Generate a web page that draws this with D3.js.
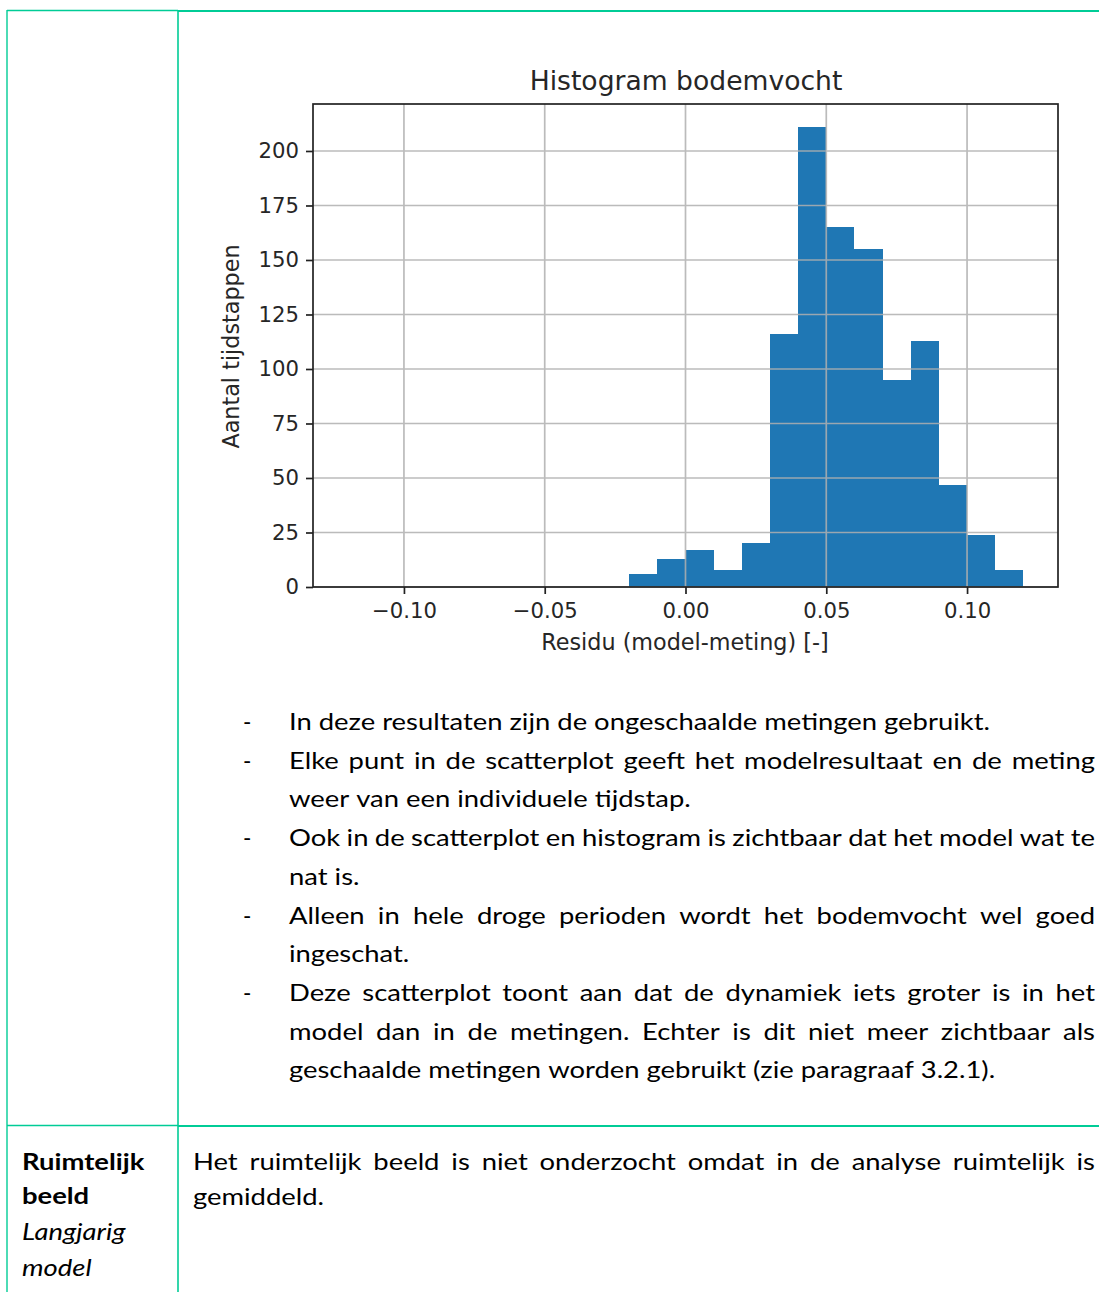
<!DOCTYPE html>
<html><head><meta charset="utf-8">
<script src="https://cdn.jsdelivr.net/npm/d3@7"></script>
<style>html,body{margin:0;padding:0;background:#fff;overflow:hidden}</style>
</head><body>
<script>
// ---- chart data ----
const binEdges = [-0.02,-0.01,0.00,0.01,0.02,0.03,0.04,0.05,0.06,0.07,0.08,0.09,0.10,0.11,0.12];
const counts   = [6,13,17,8,20,116,211,165,155,95,113,47,24,8];
const xTicks   = [-0.10,-0.05,0.00,0.05,0.10];
const yTicks   = [0,25,50,75,100,125,150,175,200];
const chartTitle = "Histogram bodemvocht";
const xLabel = "Residu (model-meting) [-]";
const yLabel = "Aantal tijdstappen";

// ---- document text ----
const bulletLines = [
  {t:"In deze resultaten zijn de ongeschaalde metingen gebruikt.", dash:true, j:false},
  {t:"Elke punt in de scatterplot geeft het modelresultaat en de meting", dash:true, j:true},
  {t:"weer van een individuele tijdstap.", dash:false, j:false},
  {t:"Ook in de scatterplot en histogram is zichtbaar dat het model wat te", dash:true, j:true},
  {t:"nat is.", dash:false, j:false},
  {t:"Alleen in hele droge perioden wordt het bodemvocht wel goed", dash:true, j:true},
  {t:"ingeschat.", dash:false, j:false},
  {t:"Deze scatterplot toont aan dat de dynamiek iets groter is in het", dash:true, j:true},
  {t:"model dan in de metingen. Echter is dit niet meer zichtbaar als", dash:false, j:true},
  {t:"geschaalde metingen worden gebruikt (zie paragraaf 3.2.1).", dash:false, j:false}
];
const rowTextLines = [
  {t:"Het ruimtelijk beeld is niet onderzocht omdat in de analyse ruimtelijk is", j:true},
  {t:"gemiddeld.", j:false}
];
const leftCellLines = [
  {t:"Ruimtelijk", w:"bold", s:"normal"},
  {t:"beeld", w:"bold", s:"normal"},
  {t:"Langjarig", w:"normal", s:"italic"},
  {t:"model", w:"normal", s:"italic"}
];

const W = 1099, H = 1292;
const svg = d3.select("body").append("svg").attr("width", W).attr("height", H)
  .style("display","block");
svg.append("rect").attr("width",W).attr("height",H).attr("fill","#fff");

// ---- table borders ----
const green = "#00cc96";
const tb = svg.append("g");
tb.append("line").attr("x1",7).attr("x2",178).attr("y1",10.5).attr("y2",10.5).attr("stroke",green).attr("stroke-width",1.3);
tb.append("line").attr("x1",178).attr("x2",W).attr("y1",11).attr("y2",11).attr("stroke",green).attr("stroke-width",2);
tb.append("line").attr("x1",7).attr("x2",7).attr("y1",10).attr("y2",H).attr("stroke",green).attr("stroke-width",1.4);
tb.append("line").attr("x1",178).attr("x2",178).attr("y1",10).attr("y2",H).attr("stroke",green).attr("stroke-width",1.6);
tb.append("line").attr("x1",7).attr("x2",178).attr("y1",1125.5).attr("y2",1125.5).attr("stroke",green).attr("stroke-width",1.3);
tb.append("line").attr("x1",178).attr("x2",W).attr("y1",1126).attr("y2",1126).attr("stroke",green).attr("stroke-width",2);

// ---- histogram ----
const m = {left:313, right:1058, top:104, bottom:587};
const x = d3.scaleLinear().domain([-0.1323, 0.1323]).range([m.left, m.right]);
const y = d3.scaleLinear().domain([0, 221.55]).range([m.bottom, m.top]);
const chartFont = "DejaVu Sans, sans-serif";
const txtCol = "#262626";
const ch = svg.append("g");

const bins = counts.map((c,i)=>({x0:binEdges[i], x1:binEdges[i+1], c}));
ch.append("g").selectAll("rect").data(bins).join("rect")
  .attr("x", d=>x(d.x0)).attr("width", d=>x(d.x1)-x(d.x0))
  .attr("y", d=>y(d.c)).attr("height", d=>y(0)-y(d.c))
  .attr("fill","#1f77b4").attr("shape-rendering","crispEdges");

// grid (drawn over the bars, as in matplotlib)
const grid = ch.append("g").attr("stroke","#b0b0b0").attr("stroke-width",1.7).attr("opacity",0.85);
grid.selectAll("line.gx").data(xTicks).join("line").attr("class","gx")
  .attr("x1",d=>x(d)).attr("x2",d=>x(d)).attr("y1",m.top).attr("y2",m.bottom);
grid.selectAll("line.gy").data(yTicks).join("line").attr("class","gy")
  .attr("y1",d=>y(d)).attr("y2",d=>y(d)).attr("x1",m.left).attr("x2",m.right);

// axes
const fmt = d3.format(".2f");
const xAxis = d3.axisBottom(x).tickValues(xTicks).tickFormat(d=>fmt(d)).tickSize(7).tickPadding(9);
const yAxis = d3.axisLeft(y).tickValues(yTicks).tickSize(7).tickPadding(7);
const gx = ch.append("g").attr("transform",`translate(0,${m.bottom})`).call(xAxis);
const gy = ch.append("g").attr("transform",`translate(${m.left},0)`).call(yAxis);
[gx,gy].forEach(g=>{
  g.select(".domain").remove();
  g.selectAll(".tick line").attr("stroke","#222").attr("stroke-width",1.7);
  g.selectAll(".tick text").attr("fill",txtCol).style("font-family",chartFont).style("font-size","21.2px");
});
// spines
ch.append("rect").attr("x",m.left).attr("y",m.top).attr("width",m.right-m.left).attr("height",m.bottom-m.top)
  .attr("fill","none").attr("stroke","#222").attr("stroke-width",1.7);

ch.append("text").attr("x",686).attr("y",90).attr("text-anchor","middle")
  .style("font-family",chartFont).style("font-size","26.6px").attr("fill",txtCol).text(chartTitle);
ch.append("text").attr("x",685).attr("y",650).attr("text-anchor","middle")
  .style("font-family",chartFont).style("font-size","22.3px").attr("fill",txtCol).text(xLabel);
ch.append("text").attr("transform",`translate(239,${(m.top+m.bottom)/2+1}) rotate(-90)`).attr("text-anchor","middle")
  .style("font-family",chartFont).style("font-size","22.3px").attr("fill",txtCol).text(yLabel);

// ---- document text (Calibri-like, measured & fitted) ----
const docFont = "Lato, 'Open Sans', sans-serif";
const FS = 22.5;
const tg = svg.append("g").style("font-family",docFont).style("font-size",FS+"px").attr("fill","#000");
function measure(str, weight, style){
  const t = tg.append("text").attr("font-weight",weight||"normal").attr("font-style",style||"normal")
    .attr("x",-1000).attr("y",-1000).text(str);
  const w = t.node().getComputedTextLength(); t.remove(); return w;
}
const spaceW = measure("n n") - measure("nn");
const k = 701 / measure(bulletLines[0].t);   // horizontal fit factor
function drawLine(str, x0, yb, justifyW, weight, style){
  const words = str.split(" ");
  const ws = words.map(w=>measure(w,weight,style)*k);
  let gap = spaceW*k;
  if (justifyW && words.length>1){
    gap = (justifyW - d3.sum(ws)) / (words.length-1);
  }
  let cx = x0;
  words.forEach((w,i)=>{
    tg.append("text").attr("x",cx).attr("y",yb).attr("font-weight",weight||"normal")
      .attr("font-style",style||"normal")
      .attr("textLength",ws[i]).attr("lengthAdjust","spacingAndGlyphs").text(w);
    cx += ws[i] + gap;
  });
}
bulletLines.forEach((l,i)=>{
  const yb = 730 + 38.7*i;
  if (l.dash) tg.append("text").attr("x",243).attr("y",yb).text("-");
  drawLine(l.t, 289, yb, l.j ? 806 : null);
});
rowTextLines.forEach((l,i)=>{
  drawLine(l.t, 193, 1170 + 34.5*i, l.j ? 902 : null);
});
const leftY = [1170,1204,1240,1276];
leftCellLines.forEach((l,i)=>{
  drawLine(l.t, 22, leftY[i], null, l.w, l.s);
});
</script>
</body></html>
